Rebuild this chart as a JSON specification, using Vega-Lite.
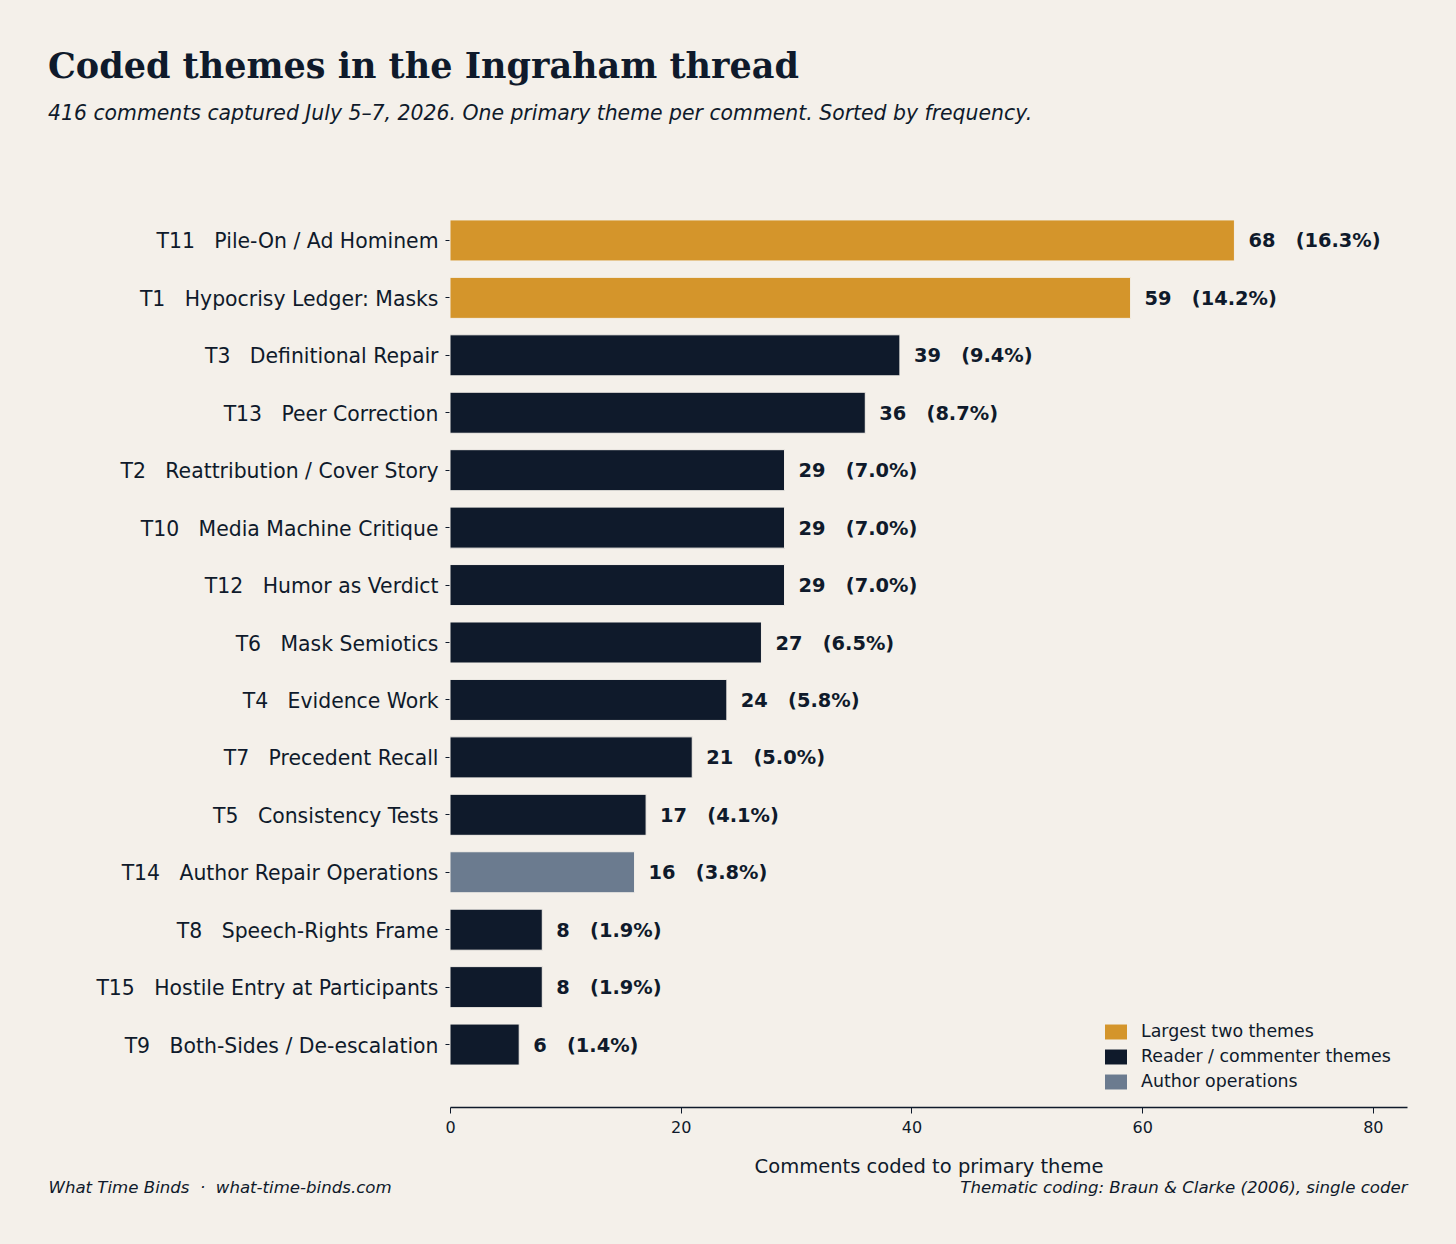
{
  "$schema": "https://vega.github.io/schema/vega-lite/v6.json",
  "width": 957,
  "height": 929,
  "autosize": {"type": "none"},
  "padding": {"left": 450, "top": 178, "right": 49, "bottom": 137},
  "background": "#f4f0ea",
  "title": {
    "text": "Coded themes in the Ingraham thread",
    "subtitle": "416 comments captured July 5–7, 2026. One primary theme per comment. Sorted by frequency.",
    "anchor": "start",
    "frame": "group",
    "dx": -402,
    "offset": 54,
    "font": "DejaVu Serif",
    "fontSize": 35,
    "fontWeight": "bold",
    "color": "#0f1a2b",
    "subtitleFont": "DejaVu Sans",
    "subtitleFontSize": 20.4,
    "subtitleFontStyle": "italic",
    "subtitleColor": "#0f1a2b",
    "subtitlePadding": 19
  },
  "data": {
    "values": [
      {"theme": "T11\u00a0\u00a0\u00a0Pile-On / Ad Hominem", "count": 68, "value_label": "68\u00a0\u00a0\u00a0(16.3%)", "group": "Largest two themes"},
      {"theme": "T1\u00a0\u00a0\u00a0Hypocrisy Ledger: Masks", "count": 59, "value_label": "59\u00a0\u00a0\u00a0(14.2%)", "group": "Largest two themes"},
      {"theme": "T3\u00a0\u00a0\u00a0Definitional Repair", "count": 39, "value_label": "39\u00a0\u00a0\u00a0(9.4%)", "group": "Reader / commenter themes"},
      {"theme": "T13\u00a0\u00a0\u00a0Peer Correction", "count": 36, "value_label": "36\u00a0\u00a0\u00a0(8.7%)", "group": "Reader / commenter themes"},
      {"theme": "T2\u00a0\u00a0\u00a0Reattribution / Cover Story", "count": 29, "value_label": "29\u00a0\u00a0\u00a0(7.0%)", "group": "Reader / commenter themes"},
      {"theme": "T10\u00a0\u00a0\u00a0Media Machine Critique", "count": 29, "value_label": "29\u00a0\u00a0\u00a0(7.0%)", "group": "Reader / commenter themes"},
      {"theme": "T12\u00a0\u00a0\u00a0Humor as Verdict", "count": 29, "value_label": "29\u00a0\u00a0\u00a0(7.0%)", "group": "Reader / commenter themes"},
      {"theme": "T6\u00a0\u00a0\u00a0Mask Semiotics", "count": 27, "value_label": "27\u00a0\u00a0\u00a0(6.5%)", "group": "Reader / commenter themes"},
      {"theme": "T4\u00a0\u00a0\u00a0Evidence Work", "count": 24, "value_label": "24\u00a0\u00a0\u00a0(5.8%)", "group": "Reader / commenter themes"},
      {"theme": "T7\u00a0\u00a0\u00a0Precedent Recall", "count": 21, "value_label": "21\u00a0\u00a0\u00a0(5.0%)", "group": "Reader / commenter themes"},
      {"theme": "T5\u00a0\u00a0\u00a0Consistency Tests", "count": 17, "value_label": "17\u00a0\u00a0\u00a0(4.1%)", "group": "Reader / commenter themes"},
      {"theme": "T14\u00a0\u00a0\u00a0Author Repair Operations", "count": 16, "value_label": "16\u00a0\u00a0\u00a0(3.8%)", "group": "Author operations"},
      {"theme": "T8\u00a0\u00a0\u00a0Speech-Rights Frame", "count": 8, "value_label": "8\u00a0\u00a0\u00a0(1.9%)", "group": "Reader / commenter themes"},
      {"theme": "T15\u00a0\u00a0\u00a0Hostile Entry at Participants", "count": 8, "value_label": "8\u00a0\u00a0\u00a0(1.9%)", "group": "Reader / commenter themes"},
      {"theme": "T9\u00a0\u00a0\u00a0Both-Sides / De-escalation", "count": 6, "value_label": "6\u00a0\u00a0\u00a0(1.4%)", "group": "Reader / commenter themes"}
    ]
  },
  "encoding": {
    "y": {
      "field": "theme",
      "type": "nominal",
      "sort": null,
      "scale": {"paddingInner": 0.286, "paddingOuter": 0.73},
      "axis": {
        "title": "What Time Binds\u00a0\u00a0·\u00a0\u00a0what-time-binds.com",
        "titleAngle": 0,
        "titleX": -402,
        "titleY": 1014,
        "titleAlign": "left",
        "titleBaseline": "alphabetic",
        "titleFont": "DejaVu Sans",
        "titleFontSize": 16.6,
        "titleFontStyle": "italic",
        "titleFontWeight": "normal",
        "titleColor": "#0f1a2b",
        "domain": false,
        "tickSize": 5,
        "tickColor": "#0f1a2b",
        "labelPadding": 7,
        "labelOffset": 2,
        "labelFont": "DejaVu Sans",
        "labelFontSize": 20.4,
        "labelColor": "#0f1a2b",
        "labelLimit": 500
      }
    }
  },
  "layer": [
    {
      "mark": {"type": "bar", "stroke": "#f4f0ea", "strokeWidth": 1},
      "encoding": {
        "x": {
          "field": "count",
          "type": "quantitative",
          "scale": {"domain": [0, 82.96], "nice": false, "zero": true},
          "axis": {
            "title": "Comments coded to primary theme",
            "titleFont": "DejaVu Sans",
            "titleFontSize": 19.5,
            "titleFontWeight": "normal",
            "titleColor": "#0f1a2b",
            "titlePadding": 22,
            "values": [0, 20, 40, 60, 80],
            "grid": false,
            "domainColor": "#0f1a2b",
            "domainWidth": 1.3,
            "tickColor": "#0f1a2b",
            "tickSize": 6,
            "labelFont": "DejaVu Sans",
            "labelFontSize": 16,
            "labelColor": "#0f1a2b",
            "labelPadding": 6,
            "labelFlush": false
          }
        },
        "fill": {
          "field": "group",
          "type": "nominal",
          "scale": {
            "domain": ["Largest two themes", "Reader / commenter themes", "Author operations"],
            "range": ["#d4952b", "#0f1a2b", "#6b7b8f"]
          },
          "legend": {
            "title": null,
            "orient": "none",
            "legendX": 655,
            "legendY": 843,
            "symbolType": "M-1,-0.68H1V0.68H-1Z",
            "symbolSize": 484,
            "symbolStrokeWidth": 0,
            "symbolOpacity": 1,
            "labelFont": "DejaVu Sans",
            "labelFontSize": 17.4,
            "labelColor": "#0f1a2b",
            "labelOffset": 14,
            "labelLimit": 400,
            "rowPadding": 5
          }
        }
      }
    },
    {
      "mark": {
        "type": "text",
        "align": "left",
        "baseline": "middle",
        "dx": 14,
        "dy": 1,
        "font": "DejaVu Sans",
        "fontSize": 19.4,
        "fontWeight": "bold",
        "color": "#0f1a2b"
      },
      "encoding": {
        "x": {
          "field": "count",
          "type": "quantitative",
          "scale": {"domain": [0, 82.96], "nice": false, "zero": true},
          "axis": {
            "orient": "bottom",
            "title": "Thematic coding: Braun & Clarke (2006), single coder",
            "titleX": 957,
            "titleY": 85,
            "titleAlign": "right",
            "titleAnchor": null,
            "titleBaseline": "alphabetic",
            "titleFont": "DejaVu Sans",
            "titleFontSize": 16.6,
            "titleFontStyle": "italic",
            "titleFontWeight": "normal",
            "titleColor": "#0f1a2b",
            "labels": false,
            "ticks": false,
            "domain": false,
            "grid": false
          }
        },
        "text": {"field": "value_label"}
      }
    }
  ],
  "resolve": {"axis": {"x": "independent"}},
  "config": {
    "view": {"stroke": null},
    "axis": {"grid": false}
  }
}
